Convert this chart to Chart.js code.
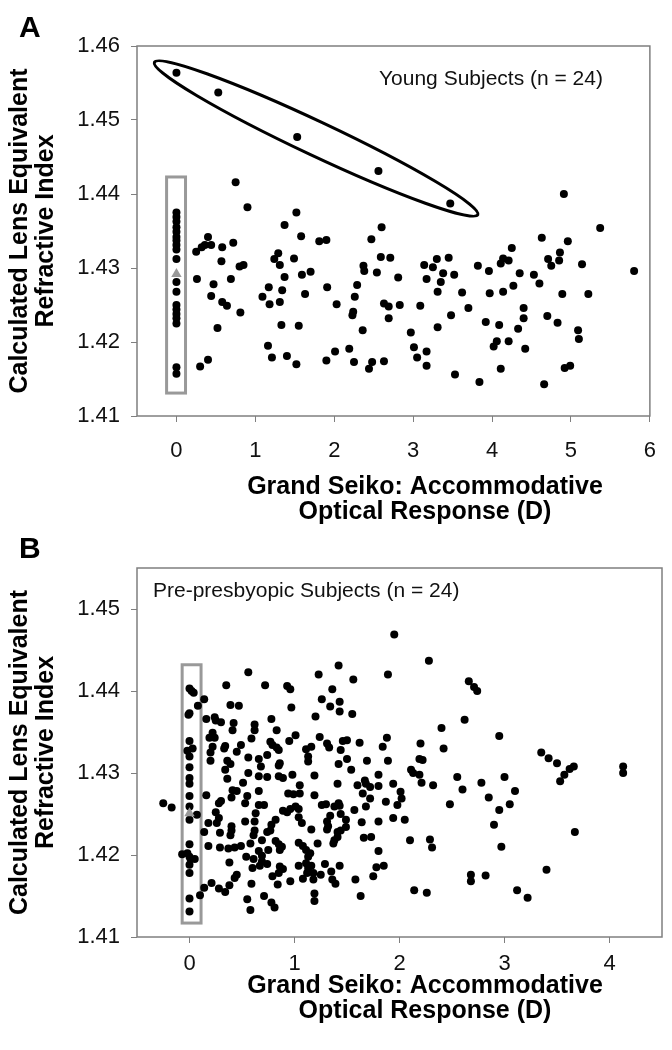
<!DOCTYPE html>
<html>
<head>
<meta charset="utf-8">
<script src="https://cdn.jsdelivr.net/npm/chart.js@4.4.0/dist/chart.umd.min.js"></script>
<style>
  body { margin: 0; background: #fff; }
  .panneau { position: absolute; left: 0; }
  #panneau-a { top: 0; }
  #panneau-b { top: 530px; }
</style>
</head>
<body>
<div class="panneau" id="panneau-a"><canvas id="chart-a" width="672" height="530"></canvas></div>
<div class="panneau" id="panneau-b"><canvas id="chart-b" width="672" height="520"></canvas></div>
<script>
// Panneau A : jeunes sujets (x = réponse accommodative D, y = indice)
const youngX = [
  0, 0.53, 1.53, 2.56, 3.47,
  0, 0, 0, 0, 0, 0, 0, 0, 0, 0, 0, 0, 0, 0, 0, 0, 0, 0, 0,
  0.75, 0.90, 0.25, 0.32, 0.36, 0.40, 0.44, 0.58, 0.72, 0.57, 0.26, 0.47, 0.44, 0.69, 0.80, 0.85, 0.58, 0.64, 0.81, 0.52, 0.30, 0.40,
  1.52, 1.17, 1.09, 1.18, 1.24, 1.29, 1.31, 1.37, 1.37, 1.34, 1.31, 1.33, 1.49, 1.58, 1.59, 1.63, 1.55, 1.70, 1.16, 1.21, 1.40, 1.52, 1.81, 1.90, 1.91, 1.90,
  2.03, 2.01, 2.19, 2.25, 2.44, 2.48, 2.63, 2.29, 2.26, 2.24, 2.23, 2.36, 2.37, 2.38, 2.47, 2.60, 2.59, 2.71, 2.54, 2.63, 2.69, 2.69, 2.81, 2.83, 2.97,
  3.01, 3.05, 3.17, 3.17, 3.53, 3.84, 3.09, 3.14, 3.25, 3.30, 3.45, 3.17, 3.38, 3.35, 3.52, 3.31, 3.62, 3.70, 3.48, 3.31, 3.82, 3.96, 3.97, 3.92,
  4.14, 4.11, 4.14, 4.21, 4.25, 4.35, 4.27, 4.40, 4.40, 4.33, 4.09, 4.06, 4.02, 4.21, 4.42, 4.11, 4.66, 4.63, 4.96, 4.86, 4.71, 4.75, 4.85, 5.14, 4.53, 4.60, 4.89, 5.22, 4.70, 4.83, 5.09, 5.10, 4.92, 4.99, 4.91, 5.37, 5.80
];
const youngY = [
  1.4564, 1.4537, 1.4477, 1.4431, 1.4387,
  1.4375, 1.4369, 1.4363, 1.4355, 1.4349, 1.4342, 1.4337, 1.4331, 1.4325, 1.4312, 1.4281, 1.4268, 1.4250, 1.4244, 1.4238, 1.4232, 1.4225, 1.4166, 1.4157,
  1.4416, 1.4382, 1.4322, 1.4328, 1.4331, 1.4342, 1.4331, 1.4328, 1.4334, 1.4309, 1.4285, 1.4278, 1.4262, 1.4285, 1.4302, 1.4304, 1.4254, 1.4249, 1.4240, 1.4219, 1.4167, 1.4176,
  1.4375, 1.4274, 1.4261, 1.4251, 1.4312, 1.4320, 1.4304, 1.4358, 1.4288, 1.4270, 1.4254, 1.4223, 1.4313, 1.4343, 1.4291, 1.4265, 1.4222, 1.4295, 1.4195, 1.4179, 1.4181, 1.4170, 1.4336, 1.4338, 1.4274, 1.4175,
  1.4251, 1.4187, 1.4191, 1.4173, 1.4164, 1.4173, 1.4174, 1.4277, 1.4261, 1.4241, 1.4236, 1.4216, 1.4303, 1.4296, 1.4339, 1.4355, 1.4315, 1.4314, 1.4294, 1.4252, 1.4248, 1.4232, 1.4287, 1.4250, 1.4213,
  1.4193, 1.4179, 1.4187, 1.4168, 1.4156, 1.4146, 1.4249, 1.4304, 1.4301, 1.4312, 1.4314, 1.4285, 1.4293, 1.4281, 1.4291, 1.4268, 1.4267, 1.4246, 1.4236, 1.4220, 1.4303, 1.4296, 1.4266, 1.4227,
  1.4268, 1.4306, 1.4313, 1.4310, 1.4327, 1.4293, 1.4276, 1.4246, 1.4232, 1.4218, 1.4223, 1.4201, 1.4194, 1.4201, 1.4191, 1.4164, 1.4143, 1.4341, 1.4336, 1.4321, 1.4312, 1.4303, 1.4310, 1.4305, 1.4291, 1.4279, 1.4265, 1.4265, 1.4235, 1.4226, 1.4216, 1.4204, 1.4165, 1.4168, 1.4400, 1.4354, 1.4296
];
const youngMeanX = [0];
const youngMeanY = [1.4292];

// Panneau B : sujets pré-presbytes
const preX = [
  0, 0.02, 0.04, 0, -0.01, 0, -0.02, 0.03, 0, 0, 0, 0, 0, 0, 0, 0.07, 0, -0.07, -0.02, 0, 0.01, 0.05, 0, 0, 0, 0,
  1.95, 2.28, 1.42, 0.56, 1.23, 1.89, 1.56, 0.35, 0.72, 0.93, 0.96, 1.36, 1.26, 1.43, 1.34, 0.14, 0.39, 0.47, 0.97, 0.08, 1.43, 1.55, 1.20,
  0.16, 0.24, 0.25, 0.30, 0.42, 0.78, 0.62, 0.62, 0.41, 0.83, 0.22, 0.19, 0.24, 0.59, 1.01, 1.24, 1.88,
  0.77, 0.79, 0.83, 0.85, 0.95, 0.49, 0.45, 0.34, 0.33, 0.22, 0.20, 1.16, 1.11, 1.13, 1.13, 1.31, 1.33, 1.46, 1.50, 1.44, 1.62, 1.84, 2.20,
  0.20, 0.36, 0.39, 0.34, 0.56, 0.66, 0.68, 0.74, 0.86, 0.85, 1.50, 1.42, 1.54, 1.69, 1.89, 2.19, 2.22, 2.11, 2.13, 2.19,
  0.56, 0.66, 0.74, 0.85, 0.89, 0.98, 1.19, 0.36, 1.80, 0.51, 1.05, 1.41, 1.60, 1.67, 1.68, 1.72, 1.65, 1.72, 1.80, 1.94, 2.21, 2.32,
  0.41, 0.45, 0.40, 0.66, 0.55, 0.53, 0.94, 0.99, 1.05, 1.19, 0.16, 2.01, 2.02, 1.98, 1.87, 1.68, 1.42, 1.43, 1.38, 1.26, 1.30, 0.30, 0.28, 0.66, 0.71, 1.01, 1.04, 0.89, 0.93, 0.96, 1.57, -0.25, -0.17,
  0.25, 0.28, 0.26, 0.63, 0.62, 0.53, 0.82, 0.78, 1.04, 1.07, 1.34, 1.31, 1.32, 1.31, 1.44, 1.49, 1.49, 1.44, 1.41, 1.64, 1.80, 1.94, 2.05, 0.18, 0.14, 0.40, 0.40, 0.39, 0.29, 0.62, 0.61, 0.58, 0.74, 0.77, 1.16, 1.41, 1.38, 1.37, 1.66, 1.73, 2.10, 2.29, 2.31,
  0.69, 0.82, 0.85, 0.88, 0.86, 1.04, 1.08, 1.11, 1.15, 1.13, 1.22, 0.18, 0.29, 0.37, 0.43, 0.49, 0.66, 0.75, 0.69, 0.54, 0.61, 1.80,
  0.69, 0.74, 0.67, 0.38, 0.60, 0.86, 0.89, 0.85, 1.04, 1.11, 1.13, 1.16, 1.18, 1.12, 1.29, 1.35, 1.43, 1.78, 1.85,
  0.45, 0.43, 0.79, 0.96, 1.08, 1.18, 1.25, 1.36, 1.39, 1.58, 1.75, 0.21, 0.28, 0.34, 0.38, 0.59, 0.84, 0.14, 0.10, 0.71, 0.55, 0.58, 0.78, 0.81, 1.19, 1.19, 1.63, 2.14, 2.26,
  2.66, 2.71, 2.74, 2.62, 2.40, 2.95, 3.35, 3.42, 3.50, 3.62, 3.57, 3.66, 4.13, 4.13, 3.53, 3.00, 3.10, 2.60, 2.55, 2.85, 2.95, 3.05, 2.48, 3.67, 2.97, 3.40, 2.82, 2.68, 2.68, 3.12, 3.22, 2.42, 2.78, 2.90
];
const preY = [
  1.4403, 1.4400, 1.4398, 1.4373, 1.4371, 1.4339, 1.4327, 1.4330, 1.4320, 1.4307, 1.4294, 1.4287, 1.4272, 1.4259, 1.4243, 1.4249, 1.4213, 1.4201, 1.4202, 1.4198, 1.4195, 1.4195, 1.4188, 1.4178, 1.4147, 1.4131,
  1.4469, 1.4437, 1.4431, 1.4423, 1.4420, 1.4420, 1.4414, 1.4407, 1.4407, 1.4406, 1.4402, 1.4402, 1.4390, 1.4387, 1.4381, 1.4390, 1.4383, 1.4382, 1.4380, 1.4382, 1.4375, 1.4372, 1.4369,
  1.4366, 1.4368, 1.4364, 1.4362, 1.4361, 1.4366, 1.4359, 1.4352, 1.4352, 1.4352, 1.4349, 1.4343, 1.4343, 1.4342, 1.4346, 1.4344, 1.4343,
  1.4338, 1.4334, 1.4331, 1.4328, 1.4339, 1.4334, 1.4326, 1.4333, 1.4330, 1.4332, 1.4325, 1.4332, 1.4329, 1.4320, 1.4314, 1.4336, 1.4331, 1.4339, 1.4340, 1.4328, 1.4337, 1.4332, 1.4336,
  1.4315, 1.4315, 1.4311, 1.4304, 1.4319, 1.4317, 1.4308, 1.4322, 1.4312, 1.4309, 1.4317, 1.4311, 1.4304, 1.4315, 1.4315, 1.4317, 1.4316, 1.4304, 1.4300, 1.4298,
  1.4300, 1.4296, 1.4295, 1.4296, 1.4294, 1.4298, 1.4297, 1.4293, 1.4298, 1.4288, 1.4285, 1.4287, 1.4285, 1.4291, 1.4287, 1.4283, 1.4275, 1.4269, 1.4284, 1.4287, 1.4288, 1.4285,
  1.4279, 1.4278, 1.4270, 1.4278, 1.4272, 1.4263, 1.4275, 1.4274, 1.4275, 1.4273, 1.4273, 1.4277, 1.4269, 1.4261, 1.4265, 1.4259, 1.4263, 1.4260, 1.4259, 1.4261, 1.4262, 1.4266, 1.4263, 1.4261, 1.4261, 1.4259, 1.4256, 1.4254, 1.4252, 1.4256, 1.4255, 1.4263, 1.4258,
  1.4252, 1.4245, 1.4239, 1.4251, 1.4241, 1.4241, 1.4243, 1.4237, 1.4246, 1.4239, 1.4248, 1.4241, 1.4235, 1.4231, 1.4250, 1.4243, 1.4234, 1.4230, 1.4228, 1.4240, 1.4241, 1.4245, 1.4243, 1.4239, 1.4228, 1.4235, 1.4230, 1.4224, 1.4227, 1.4230, 1.4224, 1.4214, 1.4228, 1.4230, 1.4231, 1.4222, 1.4218, 1.4214, 1.4221, 1.4222, 1.4218, 1.4219, 1.4209,
  1.4218, 1.4217, 1.4213, 1.4210, 1.4206, 1.4215, 1.4211, 1.4206, 1.4202, 1.4198, 1.4214, 1.4211, 1.4209, 1.4208, 1.4209, 1.4211, 1.4205, 1.4206, 1.4199, 1.4198, 1.4195, 1.4205,
  1.4192, 1.4189, 1.4187, 1.4191, 1.4184, 1.4186, 1.4183, 1.4178, 1.4187, 1.4190, 1.4184, 1.4187, 1.4178, 1.4178, 1.4189, 1.4180, 1.4187, 1.4185, 1.4187,
  1.4176, 1.4172, 1.4174, 1.4168, 1.4171, 1.4170, 1.4176, 1.4170, 1.4165, 1.4170, 1.4174, 1.4166, 1.4159, 1.4155, 1.4163, 1.4165, 1.4164, 1.4160, 1.4151, 1.4150, 1.4146, 1.4133, 1.4142, 1.4136, 1.4153, 1.4144, 1.4150, 1.4157, 1.4154,
  1.4412, 1.4405, 1.4400, 1.4365, 1.4355, 1.4345, 1.4325, 1.4318, 1.4312, 1.4305, 1.4298, 1.4308, 1.4308, 1.4300, 1.4290, 1.4295, 1.4278, 1.4280, 1.4295, 1.4270, 1.4255, 1.4262, 1.4262, 1.4228, 1.4210, 1.4182, 1.4175, 1.4176, 1.4168, 1.4157, 1.4148, 1.4330, 1.4288, 1.4237
];
const preMeanX = [0];
const preMeanY = [1.4251];

// graduations
const xTicksA = [0, 1, 2, 3, 4, 5, 6];
const yTicksA = [1.41, 1.42, 1.43, 1.44, 1.45, 1.46];
const xTicksB = [0, 1, 2, 3, 4];
const yTicksB = [1.41, 1.42, 1.43, 1.44, 1.45];

const titreY = ["Calculated Lens Equivalent", "Refractive Index"];
const titreX = ["Grand Seiko: Accommodative", "Optical Response (D)"];

const pts = (xs, ys) => xs.map((x, i) => ({ x: x, y: ys[i] }));
const police = '"Liberation Sans", Arial, sans-serif';

// cadre, rectangle gris, ellipse et textes
const decor = {
  id: "decor",
  beforeDatasetsDraw(chart, args, o) {
    const { ctx, chartArea: a, scales: { x, y } } = chart;
    ctx.save();
    ctx.strokeStyle = "#7f7f7f";
    ctx.lineWidth = 1.5;
    ctx.strokeRect(a.left, a.top, a.right - a.left, a.bottom - a.top);

    const b = o.boite;
    const bx0 = x.getPixelForValue(b[0]), bx1 = x.getPixelForValue(b[1]);
    const by0 = y.getPixelForValue(b[2]), by1 = y.getPixelForValue(b[3]);
    ctx.strokeStyle = "#999";
    ctx.lineWidth = 3;
    ctx.strokeRect(bx0, by1, bx1 - bx0, by0 - by1);

    if (o.ellipse) {
      const e = o.ellipse;
      const p1x = x.getPixelForValue(e.de[0]), p1y = y.getPixelForValue(e.de[1]);
      const p2x = x.getPixelForValue(e.a[0]), p2y = y.getPixelForValue(e.a[1]);
      const rx = Math.hypot(p2x - p1x, p2y - p1y) / 2;
      const ang = Math.atan2(p2y - p1y, p2x - p1x);
      ctx.strokeStyle = "#000";
      ctx.lineWidth = 3;
      ctx.beginPath();
      ctx.ellipse((p1x + p2x) / 2, (p1y + p2y) / 2, rx, e.demi, ang, 0, 2 * Math.PI);
      ctx.stroke();
    }
    ctx.restore();
  },
  afterDraw(chart, args, o) {
    const { ctx, chartArea: a } = chart;
    ctx.save();
    ctx.fillStyle = "#111";
    ctx.textBaseline = "alphabetic";
    ctx.textAlign = "left";
    ctx.font = "21px " + police;
    ctx.fillText(o.legende, a.left + o.legX, a.top + o.legY);

    ctx.font = "bold 30px " + police;
    ctx.fillStyle = "#000";
    ctx.fillText(o.lettre, 19, o.lettreY);

    ctx.font = "bold 25px " + police;
    ctx.textAlign = "center";
    ctx.textBaseline = "middle";
    titreX.forEach((t, i) => {
      ctx.fillText(t, a.left + 288, a.bottom + o.titreDy + i * 25);
    });
    ctx.restore();
  },
};

function axes(xmin, xmax, xticks, ymin, ymax, yticks, hautX, padX) {
  return {
    x: {
      type: "linear",
      min: xmin,
      max: xmax,
      afterBuildTicks: (s) => { s.ticks = xticks.map((v) => ({ value: v })); },
      afterFit: (s) => { s.height = hautX; },
      grid: { drawOnChartArea: false, drawTicks: true, tickLength: 6, color: "#7f7f7f" },
      border: { display: false },
      ticks: { padding: padX, color: "#111", font: { family: police, size: 22 }, maxRotation: 0, autoSkip: false,
        callback: (v) => v },
    },
    y: {
      type: "linear",
      min: ymin,
      max: ymax,
      afterBuildTicks: (s) => { s.ticks = yticks.map((v) => ({ value: v })); },
      afterFit: (s) => { s.width = 137; },
      grid: { drawOnChartArea: false, drawTicks: true, tickLength: 6, color: "#7f7f7f" },
      border: { display: false },
      ticks: { padding: 11, color: "#111", font: { family: police, size: 22 }, autoSkip: false,
        callback: (v) => v.toFixed(2) },
      title: { display: true, text: titreY, color: "#000", padding: { top: 7, bottom: 0 },
        font: { family: police, size: 25, weight: "bold", lineHeight: 1.05 } },
    },
  };
}

function jeu(xs, ys, couleur, style, rayon) {
  return { data: pts(xs, ys), backgroundColor: couleur, borderColor: couleur, borderWidth: 0,
    pointStyle: style, pointRadius: rayon, pointHoverRadius: rayon };
}

new Chart(document.getElementById("chart-a"), {
  type: "scatter",
  data: {
    datasets: [
      jeu(youngMeanX, youngMeanY, "#999", "triangle", 6),
      jeu(youngX, youngY, "#000", "circle", 4),
    ],
  },
  options: {
    responsive: false,
    animation: false,
    layout: { padding: { top: 46, right: 7, left: 0, bottom: 0 } },
    scales: axes(-0.5, 6, xTicksA, 1.41, 1.46, yTicksA, 114, 16),
    plugins: {
      legend: { display: false },
      tooltip: { enabled: false },
      decor: {
        boite: [-0.125, 0.115, 1.4131, 1.4423],
        ellipse: { de: [-0.28, 1.4578], a: [3.82, 1.4372], demi: 17 },
        legende: "Young Subjects (n = 24)", legX: 242, legY: 39,
        lettre: "A", lettreY: 37,
        titreDy: 71,
      },
    },
  },
  plugins: [decor],
});

new Chart(document.getElementById("chart-b"), {
  type: "scatter",
  data: {
    datasets: [
      jeu(preMeanX, preMeanY, "#999", "triangle", 6),
      jeu(preX, preY, "#000", "circle", 4),
    ],
  },
  options: {
    responsive: false,
    animation: false,
    layout: { padding: { top: 38, right: 10, left: 0, bottom: 0 } },
    scales: axes(-0.5, 4.5, xTicksB, 1.41, 1.455, yTicksB, 113, 8),
    plugins: {
      legend: { display: false },
      tooltip: { enabled: false },
      decor: {
        boite: [-0.07, 0.11, 1.4117, 1.4432],
        legende: "Pre-presbyopic Subjects (n = 24)", legX: 16, legY: 29,
        lettre: "B", lettreY: 28,
        titreDy: 49,
      },
    },
  },
  plugins: [decor],
});
</script>
</body>
</html>
